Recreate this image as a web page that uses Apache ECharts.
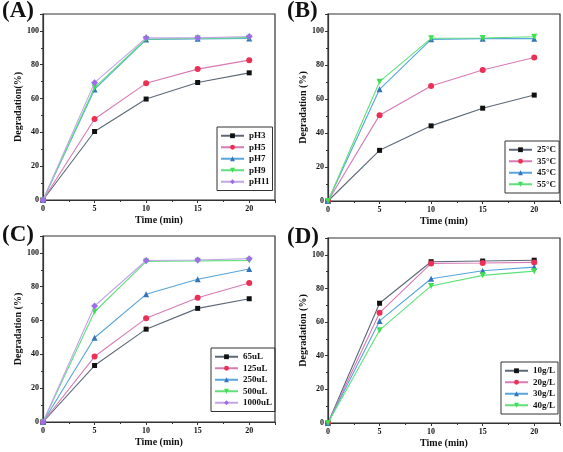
<!DOCTYPE html>
<html><head><meta charset="utf-8">
<script src="https://cdn.jsdelivr.net/npm/echarts@6/dist/echarts.min.js"></script>
<style>html,body{margin:0;padding:0;background:#fff}#c{width:563px;height:452px}</style>
</head><body><div id="c"></div>
<script>
const times = [0, 5, 10, 15, 20];
const xTicks = [0, 5, 10, 15, 20];
const yTicks = [0, 20, 40, 60, 80, 100];

const namesA = ['pH3', 'pH5', 'pH7', 'pH9', 'pH11'];
const pH3 = [0, 40.5, 59.7, 69.5, 75.2];
const pH5 = [0, 47.9, 69.0, 77.4, 82.7];
const pH7 = [0, 65.4, 94.9, 95.3, 95.5];
const pH9 = [0, 66.5, 95.2, 95.6, 96.0];
const pH11 = [0, 69.4, 95.9, 95.9, 96.7];

const namesB = ['25°C', '35°C', '45°C', '55°C'];
const t25 = [0, 29.8, 44.2, 54.6, 62.3];
const t35 = [0, 50.5, 67.7, 77.1, 84.4];
const t45 = [0, 65.7, 95.1, 95.5, 95.5];
const t55 = [0, 70.2, 95.7, 95.9, 96.6];

const namesC = ['65uL', '125uL', '250uL', '500uL', '1000uL'];
const v65 = [0, 33.4, 54.9, 67.2, 72.9];
const v125 = [0, 38.7, 61.3, 73.5, 82.2];
const v250 = [0, 49.8, 75.5, 84.4, 90.5];
const v500 = [0, 65.2, 94.9, 95.3, 95.5];
const v1000 = [0, 68.6, 95.5, 95.8, 96.6];

const namesD = ['10g/L', '20g/L', '30g/L', '40g/L'];
const g10 = [0, 71.2, 95.9, 96.3, 96.8];
const g20 = [0, 65.5, 94.9, 95.1, 95.5];
const g30 = [0, 60.7, 85.8, 90.5, 92.7];
const g40 = [0, 55.2, 81.5, 87.8, 90.3];

const panels = [
  {label: '(A)', yName: 'Degradation(%)', names: namesA, data: [pH3, pH5, pH7, pH9, pH11]},
  {label: '(B)', yName: 'Degradation (%)', names: namesB, data: [t25, t35, t45, t55]},
  {label: '(C)', yName: 'Degradation (%)', names: namesC, data: [v65, v125, v250, v500, v1000]},
  {label: '(D)', yName: 'Degradation (%)', names: namesD, data: [g10, g20, g30, g40]}
];

const styles = [
  {line: '#5c6878', mark: '#111111', symbol: 'rect', size: 5},
  {line: '#d77bb5', mark: '#ec2f55', symbol: 'circle', size: 6},
  {line: '#58a4dc', mark: '#3673b8', symbol: 'triangle', size: 6},
  {line: '#5fe07a', mark: '#3ee050', symbol: 'triangle', size: 6, rot: 180},
  {line: '#c3a6ea', mark: '#9d6ee6', symbol: 'diamond', size: 7}
];

const grids = [
  {left: 43, top: 14, width: 232, height: 186},
  {left: 328, top: 14, width: 232, height: 187},
  {left: 43, top: 236, width: 232, height: 186},
  {left: 328, top: 238, width: 232, height: 185}
];
const legendPos = [
  {left: 217, top: 127},
  {left: 505, top: 141},
  {left: 211, top: 348},
  {left: 501, top: 362}
];
const labelPos = [[2, 0], [287, 0], [2, 224], [287, 226]];

const font = '"Liberation Serif", "Times New Roman", serif';
const axisColor = '#333';

const option = {
  animation: false,
  backgroundColor: '#fff',
  title: panels.map((p, i) => ({
    text: p.label, left: labelPos[i][0], top: labelPos[i][1], padding: 0,
    textStyle: {fontFamily: font, fontWeight: 'bold', fontSize: 23, color: '#111'}
  })),
  grid: grids.map(g => Object.assign({show: true, borderColor: axisColor, borderWidth: 1.2, backgroundColor: 'transparent'}, g)),
  xAxis: grids.map((g, i) => ({
    type: 'value', gridIndex: i, min: xTicks[0], max: 22.5, interval: xTicks[1] - xTicks[0],
    name: 'Time (min)', nameLocation: 'middle', nameGap: 15,
    nameTextStyle: {fontFamily: font, fontWeight: 'bold', fontSize: 10, color: '#111'},
    axisLine: {show: true, lineStyle: {color: axisColor, width: 1.2}},
    axisTick: {show: true, length: 3, lineStyle: {color: axisColor}},
    minorTick: {show: true, splitNumber: 2, length: 2, lineStyle: {color: axisColor}},
    axisLabel: {fontFamily: font, fontWeight: 'bold', fontSize: 8, color: '#111', margin: 5, showMaxLabel: false},
    splitLine: {show: false}
  })),
  yAxis: grids.map((g, i) => ({
    type: 'value', gridIndex: i, min: yTicks[0], max: 110, interval: yTicks[1] - yTicks[0],
    name: panels[i].yName, nameLocation: 'middle', nameGap: 19, nameRotate: 90,
    nameTextStyle: {fontFamily: font, fontWeight: 'bold', fontSize: 10, color: '#111'},
    axisLine: {show: true, lineStyle: {color: axisColor, width: 1.2}},
    axisTick: {show: true, length: 3, lineStyle: {color: axisColor}},
    minorTick: {show: true, splitNumber: 2, length: 2, lineStyle: {color: axisColor}},
    axisLabel: {fontFamily: font, fontWeight: 'bold', fontSize: 8, color: '#111', margin: 4, showMaxLabel: false},
    splitLine: {show: false}
  })),
  legend: panels.map((p, i) => ({
    data: p.names, orient: 'vertical', left: legendPos[i].left, top: legendPos[i].top,
    itemWidth: 23, itemHeight: 6, itemGap: 0,
    borderColor: '#333', borderWidth: 1, padding: [3, 3, 3, 3],
    textStyle: {fontFamily: font, fontWeight: 'bold', fontSize: 9, lineHeight: 11.5, color: '#111'}
  })),
  series: []
};

panels.forEach((p, i) => {
  p.data.forEach((vals, k) => {
    const s = styles[k];
    option.series.push({
      type: 'line', name: p.names[k], xAxisIndex: i, yAxisIndex: i,
      data: times.map((t, j) => [t, vals[j]]),
      symbol: s.symbol, symbolSize: s.size, symbolRotate: s.rot || 0,
      clip: false, z: 2 + k,
      lineStyle: {color: s.line, width: 1.1},
      itemStyle: {color: s.mark}
    });
  });
});

const chart = echarts.init(document.getElementById('c'), null, {renderer: 'canvas'});
chart.setOption(option);
</script>
</body></html>
